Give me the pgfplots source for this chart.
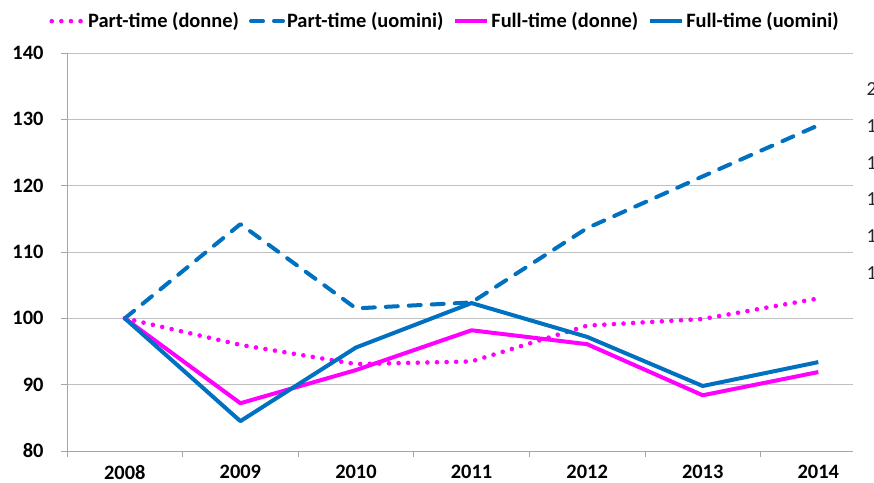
\documentclass[border=0pt]{standalone}
\usepackage{pgfplots}
\pgfplotsset{compat=1.18}
\usepackage{fontspec}
\setmainfont{Carlito}
\definecolor{fblu}{HTML}{0070C0}
\definecolor{fmag}{HTML}{FF00FF}
\definecolor{gridg}{HTML}{C0C0C0}
\definecolor{axg}{HTML}{A6A6A6}

\begin{document}
\begin{tikzpicture}
  \begin{axis}[
      name=ax,
      scale only axis, width=786bp, height=398bp,
      xmin=-0.5, xmax=6.3, ymin=80, ymax=140,
      xtick={-0.5,0.5,...,5.5}, xticklabels={},
      extra x ticks={0,1,2,3,4,5,6},
      extra x tick labels={2008,2009,2010,2011,2012,2013,2014},
      extra x tick style={major tick length=0pt, grid=none},
      ytick={80,90,...,140},
      axis x line*=bottom, axis y line*=left,
      tick align=outside, major tick length=6bp,
      tick style={axg, line width=0.8bp},
      axis line style={axg, line width=0.8bp},
      ymajorgrids, grid style={gridg, line width=0.8bp},
      ticklabel style={font=\bfseries\fontsize{20.5}{20.5}\selectfont},
      yticklabel style={xshift=-14bp},
      xticklabel style={yshift=-11bp},
      /pgf/number format/assume math mode=true,
      legend columns=4,
      legend style={draw=none, fill=none, at={(0.481,1.08)}, anchor=center,
        font=\bfseries\fontsize{20.5}{20.5}\selectfont,
        /tikz/every even column/.append style={column sep=8bp}},
      legend image code/.code={\draw[#1] (0bp,0bp) -- (32bp,0bp);},
      line join=round,
    ]
    % part-time donne
    \addplot[fmag, line width=4.6bp, line cap=round, dash pattern=on 0bp off 9.6bp]
      coordinates {(0,100)(1,96.0)(2,93.1)(3,93.5)(4,98.9)(5,99.9)(6,103.0)};
    \addlegendentry{Part-time (donne)}
    % part-time uomini
    \addplot[fblu, line width=4bp, line cap=round, dash pattern=on 12bp off 11bp]
      coordinates {(0,100)(1,114.2)(2,101.5)(3,102.4)(4,113.6)(5,121.4)(6,129.1)};
    \addlegendentry{Part-time (uomini)}
    % full-time donne
    \addplot[fmag, line width=4bp]
      coordinates {(0,100)(1,87.2)(2,92.2)(3,98.2)(4,96.1)(5,88.4)(6,91.9)};
    \addlegendentry{Full-time (donne)}
    % full-time uomini
    \addplot[fblu, line width=4bp]
      coordinates {(0,100)(1,84.5)(2,95.6)(3,102.3)(4,97.2)(5,89.8)(6,93.4)};
    \addlegendentry{Full-time (uomini)}
  \end{axis}
  % etichette dell'asse secondario, tagliate dal bordo come nell'originale
  \foreach \v/\yy in {200/362,180/325,160/288.4,140/251.6,120/215,100/178,80/141}
    \node[anchor=east, inner sep=0pt, text=black!85, font=\fontsize{20}{20}\selectfont]
      at ([shift={(830bp,\yy bp)}]ax.south west) {\v};
  \pgfresetboundingbox
  \path[use as bounding box] ([shift={(-67bp,-32bp)}]ax.south west) rectangle +(874bp,483bp);
\end{tikzpicture}
\end{document}
